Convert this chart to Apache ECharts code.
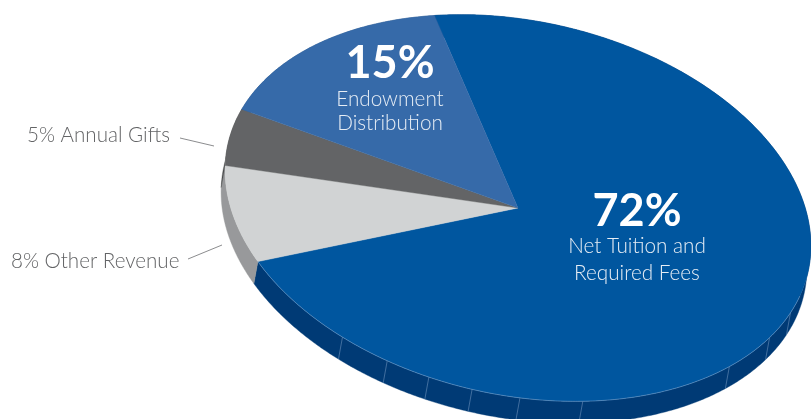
<!DOCTYPE html>
<html><head><meta charset="utf-8">
<style>html,body{margin:0;padding:0;background:#fff}#c{width:811px;height:419px}</style>
<script src="https://cdn.jsdelivr.net/npm/echarts@6/dist/echarts.min.js"></script>
</head><body><div id="c"></div>
<script>
// Data
var categories = ['Net Tuition and Required Fees', 'Other Revenue', 'Annual Gifts', 'Endowment Distribution'];
var values = [72, 8, 5, 15];
var facetAngles = [119, 108.7, 99.9, 91.2, 81.8, 69.4, 36, 23, 13.7];

// Styles
var faceColors = ['#00569f', '#d1d3d4', '#636466', '#366aa9'];
var wallColors = ['#003a75', '#98999b', '#4a4b4d', '#2c5588'];

// Projection of the tilted disc
var disc = {cx: 518, cy: 208, a: 297, b: 187, tilt: 12.3, start: 245.6, dx: -4, dy: 22};
var total = values.reduce(function (s, v) { return s + v; }, 0);
function pt(deg, ox, oy) {
  var t = deg * Math.PI / 180, f = disc.tilt * Math.PI / 180;
  var u = disc.a * Math.cos(t), v = disc.b * Math.sin(t);
  return [disc.cx + u * Math.cos(f) - v * Math.sin(f) + (ox || 0),
          disc.cy + u * Math.sin(f) + v * Math.cos(f) + (oy || 0)];
}
function range(i) {
  var s = disc.start;
  for (var k = 0; k < i; k++) s += values[k] / total * 360;
  return [s, s + values[i] / total * 360];
}
function arc(a0, a1, ox, oy) {
  var out = [], n = Math.ceil(Math.abs(a1 - a0) * 2);
  for (var k = 0; k <= n; k++) out.push(pt(a0 + (a1 - a0) * k / n, ox, oy));
  return out;
}
var rows = categories.map(function (c, i) { return [c, values[i]]; });

function renderWall(params) {
  var r = range(params.dataIndex), i = params.dataIndex;
  var pts = arc(r[0], r[1]).concat(arc(r[1], r[0], disc.dx, disc.dy));
  return {type: 'polygon', silent: true, shape: {points: pts},
    style: {fill: wallColors[i], stroke: wallColors[i], lineWidth: 0.4}};
}
function renderFace(params) {
  var r = range(params.dataIndex), i = params.dataIndex;
  var pts = [[disc.cx, disc.cy]].concat(arc(r[0], r[1]));
  return {type: 'polygon', silent: true, shape: {points: pts},
    style: {fill: faceColors[i], stroke: faceColors[i], lineWidth: 0.4}};
}
function renderFacet(params) {
  var d = facetAngles[params.dataIndex];
  return {type: 'line', silent: true,
    shape: {x1: pt(d)[0], y1: pt(d)[1], x2: pt(d, disc.dx, disc.dy)[0], y2: pt(d, disc.dx, disc.dy)[1]},
    style: {stroke: 'rgba(170,195,225,0.55)', lineWidth: 0.7}};
}
function renderRim() {
  var r = range(0);
  return {type: 'polyline', silent: true,
    shape: {points: arc(360 + 8, r[1])},
    style: {stroke: 'rgba(170,195,225,0.55)', lineWidth: 0.7, fill: 'none'}};
}

var inner = [
  {big: '72%', lines: ['Net Tuition and', 'Required Fees'], x: 637, y: 211, l: [246, 273]},
  {big: '15%', lines: ['Endowment', 'Distribution'], x: 390, y: 63, l: [99, 123]}
];
var outer = [
  {text: '5% Annual Gifts', x: 27, y: 135, line: [180, 138, 214, 146]},
  {text: '8% Other Revenue', x: 11, y: 261, line: [188, 259, 222, 245]}
];
var font = 'Lato, "Open Sans", sans-serif';
function renderLabels(params) {
  var kids = [];
  inner.forEach(function (b) {
    kids.push({type: 'text', silent: true, style: {text: b.big, x: b.x, y: b.y, align: 'center', verticalAlign: 'middle',
      fill: '#fff', font: '700 45px ' + font}});
    b.lines.forEach(function (t, i) {
      kids.push({type: 'text', silent: true, style: {text: t, x: b.x, y: b.l[i], align: 'center', verticalAlign: 'middle',
        fill: '#e6edf5', font: '300 20.7px ' + font}});
    });
  });
  outer.forEach(function (o) {
    kids.push({type: 'text', silent: true, style: {text: o.text, x: o.x, y: o.y, align: 'left', verticalAlign: 'middle',
      fill: '#636466', font: '300 20.6px ' + font}});
    kids.push({type: 'line', silent: true, shape: {x1: o.line[0], y1: o.line[1], x2: o.line[2], y2: o.line[3]},
      style: {stroke: '#6d6e71', lineWidth: 0.8}});
  });
  return {type: 'group', children: kids};
}

var chart = echarts.init(document.getElementById('c'), null, {renderer: 'canvas'});
chart.setOption({
  animation: false,
  backgroundColor: '#fff',
  series: [
    {type: 'custom', coordinateSystem: 'none', z: 1, data: rows, renderItem: renderWall},
    {type: 'custom', coordinateSystem: 'none', z: 2, data: facetAngles, renderItem: renderFacet},
    {type: 'custom', coordinateSystem: 'none', z: 3, data: rows, renderItem: renderFace},
    {type: 'custom', coordinateSystem: 'none', z: 4, data: [0], renderItem: renderRim},
    {type: 'custom', coordinateSystem: 'none', z: 5, data: [0], renderItem: renderLabels}
  ]
});
</script></body></html>
